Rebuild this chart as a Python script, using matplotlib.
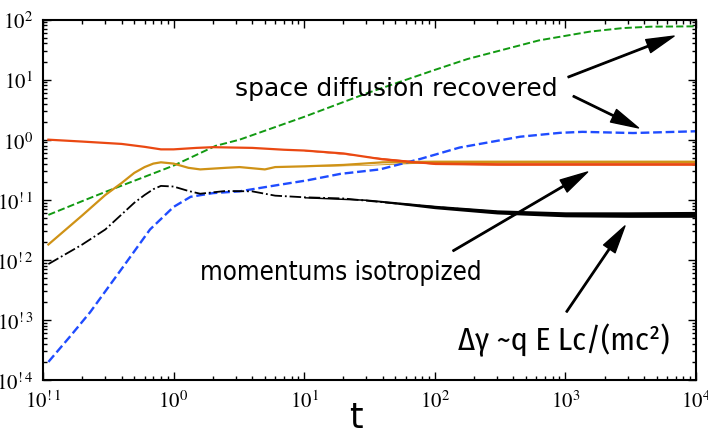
import matplotlib
matplotlib.use("Agg")
import matplotlib.pyplot as plt
from matplotlib.ticker import LogLocator, FixedLocator, FixedFormatter, NullFormatter

plt.rcParams['mathtext.fontset'] = 'stix'

# time samples, one list per curve
t_red = [0.11, 0.2, 0.4, 0.6, 0.8, 1.0, 1.5, 2.0, 4.0, 7.0, 10, 20, 40, 70, 100, 300, 1000, 10000]
red = [1.0, 0.93, 0.85, 0.76, 0.69, 0.69, 0.73, 0.75, 0.73, 0.68, 0.66, 0.59, 0.47, 0.42, 0.40, 0.39, 0.39, 0.39]

t_orange = [0.11, 0.2, 0.3, 0.4, 0.5, 0.6, 0.7, 0.8, 1.0, 1.3, 1.6, 2.5, 3.2, 5.0, 6.0, 10, 20, 40, 100, 1000, 10000]
orange = [0.018, 0.055, 0.12, 0.19, 0.28, 0.35, 0.40, 0.42, 0.40, 0.34, 0.32, 0.34, 0.35, 0.32, 0.35, 0.36, 0.38, 0.42, 0.43, 0.43, 0.43]

t_black = [0.11, 0.2, 0.3, 0.5, 0.6, 0.7, 0.8, 1.0, 1.3, 1.6, 2.5, 4.0, 6.0, 10, 20, 40, 100, 300, 1000, 10000]
black = [0.0085, 0.018, 0.032, 0.089, 0.12, 0.15, 0.17, 0.166, 0.14, 0.126, 0.14, 0.138, 0.117, 0.11, 0.105, 0.091, 0.076, 0.063, 0.057, 0.057]

t_blue = [0.11, 0.16, 0.23, 0.41, 0.66, 1.0, 1.35, 2.0, 3.2, 6.5, 10.5, 19, 38, 78, 155, 450, 910, 1350, 3300, 10000]
blue = [2.0e-4, 5.2e-4, 1.35e-3, 7.6e-3, 0.032, 0.076, 0.112, 0.129, 0.138, 0.178, 0.21, 0.27, 0.32, 0.48, 0.74, 1.12, 1.30, 1.35, 1.29, 1.38]

t_green = [0.11, 0.2, 0.3, 0.55, 1.0, 2.1, 3.2, 10, 30, 100, 178, 630, 1550, 2750, 4500, 10000]
green = [0.056, 0.095, 0.135, 0.224, 0.37, 0.79, 1.0, 2.4, 5.9, 14.5, 22, 45, 63, 72, 76, 77]

# noise envelopes of the late-time parts
t_band = [10, 30, 100, 300, 1000, 3000, 10000]
black_lo = [0.107, 0.097, 0.071, 0.058, 0.052, 0.051, 0.051]
black_hi = [0.113, 0.103, 0.081, 0.068, 0.063, 0.063, 0.064]
red_lo = [0.655, 0.525, 0.385, 0.375, 0.375, 0.375, 0.375]
red_hi = [0.665, 0.535, 0.415, 0.405, 0.405, 0.405, 0.405]
orange_lo = [0.357, 0.375, 0.415, 0.415, 0.415, 0.415, 0.415]
orange_hi = [0.363, 0.385, 0.44, 0.44, 0.44, 0.44, 0.44]

xticks = [0.1, 1, 10, 100, 1000, 10000]
xticklabels = [r'$10^{!1}$', r'$10^{0}$', r'$10^{1}$', r'$10^{2}$', r'$10^{3}$', r'$10^{4}$']
yticks = [1e-4, 1e-3, 1e-2, 1e-1, 1, 10, 100]
yticklabels = [r'$10^{!4}$', r'$10^{!3}$', r'$10^{!2}$', r'$10^{!1}$', r'$10^{0}$', r'$10^{1}$', r'$10^{2}$']

fig = plt.figure(figsize=(7.08, 4.31), dpi=100)
ax = fig.add_axes([0.0607, 0.116, 0.9223, 0.8364])

c_red = '#ea4812'
c_orange = '#cf9216'
c_green = '#129a12'
c_blue = '#1f4cff'

ax.plot(t_green, green, '--', color=c_green, lw=1.4)
ax.plot(t_blue, blue, '--', color=c_blue, lw=1.7)
ax.plot(t_black, black, '-.', color='black', lw=1.3)
ax.fill_between(t_band, black_lo, black_hi, color='black', lw=0)
ax.plot(t_orange, orange, '-', color=c_orange, lw=1.6)
ax.fill_between(t_band, orange_lo, orange_hi, color=c_orange, lw=0)
ax.plot(t_red, red, '-', color=c_red, lw=1.6)
ax.fill_between(t_band, red_lo, red_hi, color=c_red, lw=0)

ax.set_xscale('log')
ax.set_yscale('log')
ax.set_xlim(0.1, 1e4)
ax.set_ylim(1e-4, 1e2)

ax.xaxis.set_major_locator(FixedLocator(xticks))
ax.xaxis.set_major_formatter(FixedFormatter(xticklabels))
ax.yaxis.set_major_locator(FixedLocator(yticks))
ax.yaxis.set_major_formatter(FixedFormatter(yticklabels))
ax.xaxis.set_minor_locator(LogLocator(base=10, subs=range(2, 10), numticks=20))
ax.yaxis.set_minor_locator(LogLocator(base=10, subs=range(2, 10), numticks=20))
ax.xaxis.set_minor_formatter(NullFormatter())
ax.yaxis.set_minor_formatter(NullFormatter())
ax.tick_params(which='both', direction='in', top=True, right=True, width=1)
ax.tick_params(which='major', length=6, labelsize=15, pad=7)
ax.tick_params(which='minor', length=3)
for s in ax.spines.values():
    s.set_linewidth(1.5)

ax.set_xlabel('t', fontsize=25, labelpad=-4)
ax.xaxis.set_label_coords(0.48, -0.055)

arrow = dict(facecolor='black', edgecolor='black', width=1.0, headwidth=10, headlength=20, shrink=0)
ax.annotate('', xy=(6800, 53), xytext=(1050, 11), arrowprops=arrow)
ax.annotate('', xy=(3630, 1.57), xytext=(1150, 5.3), arrowprops=arrow)
ax.annotate('', xy=(1480, 0.29), xytext=(138, 0.0141), arrowprops=arrow)
ax.annotate('', xy=(2860, 0.0367), xytext=(1020, 0.00136), arrowprops=arrow)

ax.text(51, 7.2, 'space diffusion recovered', fontsize=18, ha='center', va='center')
ax.text(19, 0.0063, 'momentums isotropized', fontsize=18.5, fontstretch='condensed',
        ha='center', va='center')
ax.text(977, 4.8e-4, 'Δγ ~q E Lc/(mc²)', fontsize=23, fontweight='normal',
        family=['Fira Sans Condensed', 'DejaVu Sans'], ha='center', va='center')

fig.savefig('out.png', dpi=100)
